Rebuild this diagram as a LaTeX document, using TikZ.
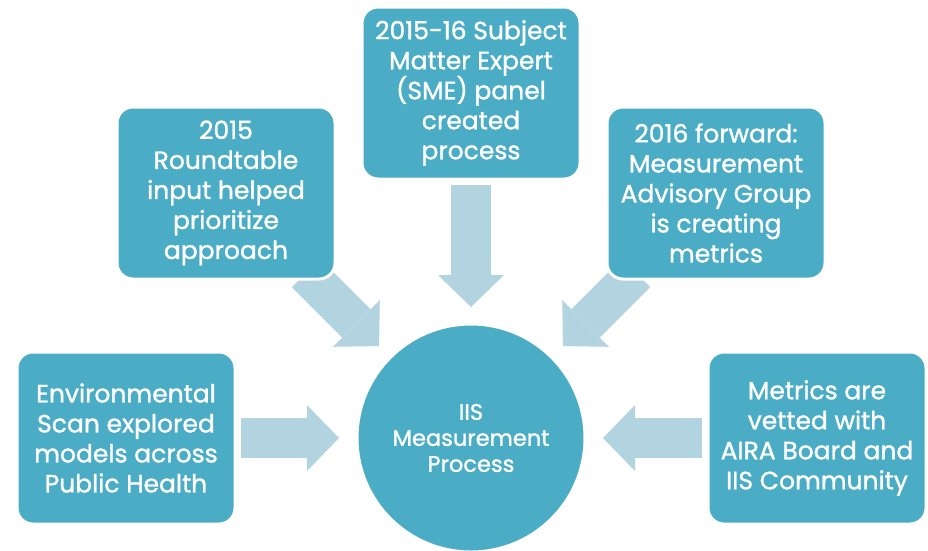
\documentclass[tikz,border=0pt]{standalone}
\usepackage{fontspec}
\setmainfont{Poppins}[FakeBold=1.2]
\usetikzlibrary{arrows.meta,backgrounds}

\definecolor{boxteal}{HTML}{4BACC6}
\definecolor{arrowblue}{HTML}{B1D4E0}

\begin{document}
\begin{tikzpicture}[x=1pt,y=-1pt,
  stepbox/.style={rectangle, rounded corners=16pt, fill=boxteal, draw=white, line width=3pt,
    text=white, align=center, minimum width=218pt, minimum height=172pt, inner sep=0pt,
    font=\fontsize{25}{30}\selectfont},
  hub/.style={circle, fill=boxteal, draw=white, line width=3pt, text=white, align=center,
    minimum size=228pt, inner sep=0pt, font=\fontsize{22.5}{26}\selectfont},
  bigarrow/.style={draw=arrowblue, line width=40pt,
    -{Triangle[length=32pt,width=66pt,line width=0pt]}}]
  \useasboundingbox (0,0) rectangle (928,550);

  \node [hub] (iis) at (471,438) {IIS\\Measurement\\Process};

  \node [stepbox] (sme) at (471,93) {2015-16 Subject\\Matter Expert\\(SME) panel\\created\\process};
  \node [stepbox] (round) at (226,193) {2015\\Roundtable\\input helped\\prioritize\\approach};
  \node [stepbox] (mag) at (716,193) {2016 forward:\\Measurement\\Advisory Group\\is creating\\metrics};
  \node [stepbox] (env) at (126,438) {Environmental\\Scan explored\\models across\\Public Health};
  \node [stepbox] (vet) at (817,438) {Metrics are\\vetted with\\AIRA Board and\\IIS Community};

  \coordinate (roundtail) at (306,273);
  \coordinate (magtail) at (636,273);

  \begin{scope}[on background layer]
    \draw [bigarrow, shorten <=4.5pt, shorten >=15.5pt] (sme.south) -- (iis.north);
    \draw [bigarrow, shorten >=14.5pt] (roundtail) -- (iis.135);
    \draw [bigarrow, shorten >=14.5pt] (magtail) -- (iis.45);
    \draw [bigarrow, shorten <=4.5pt, shorten >=16.5pt] (env.east) -- (iis.west);
    \draw [bigarrow, shorten <=4.5pt, shorten >=16.5pt] (vet.west) -- (iis.east);
  \end{scope}
\end{tikzpicture}
\end{document}
